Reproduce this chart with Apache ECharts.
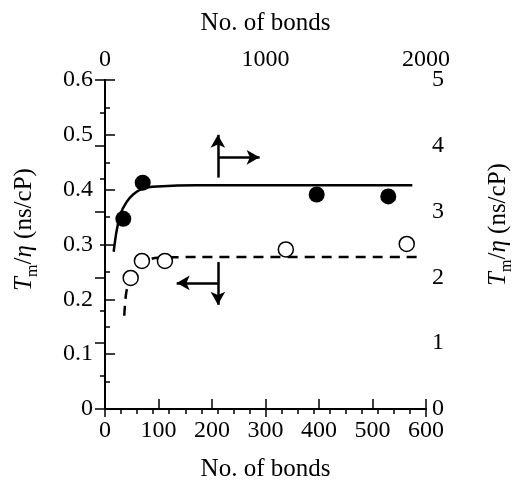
<!DOCTYPE html>
<html>
<head>
<meta charset="utf-8">
<script src="https://cdn.jsdelivr.net/npm/echarts@6/dist/echarts.min.js"></script>
<style>
  html, body { margin: 0; padding: 0; background: #fff; }
  #chart { width: 523px; height: 487px; }
</style>
</head>
<body>
<div id="chart"></div>
<script>
// filled circles + solid fit: top axis (No. of bonds, 0-2000) / right axis
var filledBonds = [114, 235, 1319, 1765];
var filledVals = [2.89, 3.44, 3.26, 3.23];
var solidBonds = [54, 72, 96, 133, 175, 235, 325, 566, 1169, 1915];
var solidVals = [2.39, 2.70, 2.96, 3.14, 3.26, 3.35, 3.38, 3.40, 3.40, 3.40];

// open circles + dashed fit: bottom axis (0-600) / left axis
var openBonds = [48, 69, 112, 338, 564];
var openVals = [0.239, 0.27, 0.27, 0.291, 0.301];
var dashBonds = [36, 40, 49, 61, 76, 98, 170, 591];
var dashVals = [0.17, 0.214, 0.239, 0.259, 0.27, 0.276, 0.277, 0.277];

var font = 'Liberation Serif';

function pairs(xs, ys) {
  return xs.map(function (x, i) { return [x, ys[i]]; });
}
function plain(v) { return String(v); }

var nameRich = {
  i: { fontFamily: font, fontSize: 25, fontStyle: 'italic', color: '#000', lineHeight: 34, verticalAlign: 'middle' },
  s: { fontFamily: font, fontSize: 16, color: '#000', lineHeight: 16, verticalAlign: 'bottom' },
  n: { fontFamily: font, fontSize: 25, color: '#000', lineHeight: 34, verticalAlign: 'middle' }
};
var yName = '{i|T}{s|m}{n|/}{i|η}{n| (ns/cP)}';

var lineBlack = { show: true, lineStyle: { color: '#000', width: 2 } };
var labelStyle = { fontFamily: font, fontSize: 24, color: '#000', formatter: plain };

var arrowStyle = { color: '#000', width: 2.5, type: 'solid' };

var option = {
  animation: false,
  backgroundColor: '#fff',
  grid: { left: 105, right: 85, top: 80, bottom: 76 },
  xAxis: [
    {
      type: 'value', position: 'bottom', min: 0, max: 600, interval: 100,
      name: 'No. of bonds', nameLocation: 'middle', nameGap: 48,
      nameTextStyle: { fontFamily: font, fontSize: 25, color: '#000' },
      axisLine: lineBlack,
      axisTick: { inside: true, length: 10, lineStyle: { color: '#000', width: 1.5 } },
      axisLabel: Object.assign({ margin: 10 }, labelStyle),
      splitLine: { show: false }
    },
    {
      type: 'value', position: 'top', min: 0, max: 2000, interval: 1000,
      name: 'No. of bonds', nameLocation: 'middle', nameGap: 44,
      nameTextStyle: { fontFamily: font, fontSize: 25, color: '#000' },
      axisLine: lineBlack,
      axisTick: { inside: true, length: 8, lineStyle: { color: '#000', width: 1.5 } },
      minorTick: { show: true, splitNumber: 10, length: 5, lineStyle: { color: '#000', width: 1.5 } },
      axisLabel: Object.assign({ margin: 8 }, labelStyle),
      splitLine: { show: false }
    }
  ],
  yAxis: [
    {
      type: 'value', position: 'left', min: 0, max: 0.6, interval: 0.1,
      name: yName, nameLocation: 'middle', nameGap: 64, nameRotate: 90,
      nameTextStyle: { fontFamily: font, fontSize: 25, color: '#000', rich: nameRich, padding: [0, 0, 0, 30] },
      axisLine: lineBlack,
      axisTick: { inside: true, length: 10, lineStyle: { color: '#000', width: 1.5 } },
      minorTick: { show: true, splitNumber: 2, length: 5, lineStyle: { color: '#000', width: 1.5 } },
      axisLabel: Object.assign({ margin: 12 }, labelStyle),
      splitLine: { show: false }
    },
    {
      type: 'value', position: 'right', min: 0, max: 5, interval: 1,
      name: yName, nameLocation: 'middle', nameGap: 55, nameRotate: 90,
      nameTextStyle: { fontFamily: font, fontSize: 25, color: '#000', rich: nameRich, padding: [0, 0, 0, 40] },
      axisLine: lineBlack,
      axisTick: { inside: true, length: 10, lineStyle: { color: '#000', width: 1.5 } },
      minorTick: { show: true, splitNumber: 2, length: 5, lineStyle: { color: '#000', width: 1.5 } },
      axisLabel: Object.assign({ margin: 6 }, labelStyle),
      splitLine: { show: false }
    }
  ],
  series: [
    {
      name: 'fit right', type: 'line', xAxisIndex: 1, yAxisIndex: 1,
      data: pairs(solidBonds, solidVals), smooth: 0.3, showSymbol: false,
      lineStyle: { color: '#000', width: 2.5 }, z: 2
    },
    {
      name: 'fit left', type: 'line', xAxisIndex: 0, yAxisIndex: 0,
      data: pairs(dashBonds, dashVals), smooth: 0.3, showSymbol: false,
      lineStyle: { color: '#000', width: 2.5, type: [10, 7] }, z: 2,
      markLine: {
        silent: true, symbol: ['none', 'arrow'], symbolSize: [11, 13],
        label: { show: false }, lineStyle: arrowStyle,
        data: [
          [{ coord: [211, 0.422] }, { coord: [211, 0.500] }],
          [{ coord: [211, 0.459] }, { coord: [289, 0.459] }],
          [{ coord: [211, 0.268] }, { coord: [211, 0.190] }],
          [{ coord: [211, 0.230] }, { coord: [134, 0.230] }]
        ]
      }
    },
    {
      name: 'filled', type: 'scatter', xAxisIndex: 1, yAxisIndex: 1,
      data: pairs(filledBonds, filledVals), symbol: 'circle', symbolSize: 16,
      itemStyle: { color: '#000', opacity: 1 }, z: 3
    },
    {
      name: 'open', type: 'scatter', xAxisIndex: 0, yAxisIndex: 0,
      data: pairs(openBonds, openVals), symbol: 'circle', symbolSize: 15,
      itemStyle: { color: '#fff', borderColor: '#000', borderWidth: 1.5, opacity: 1 }, z: 3
    }
  ]
};

var chart = echarts.init(document.getElementById('chart'));
chart.setOption(option);
</script>
</body>
</html>
